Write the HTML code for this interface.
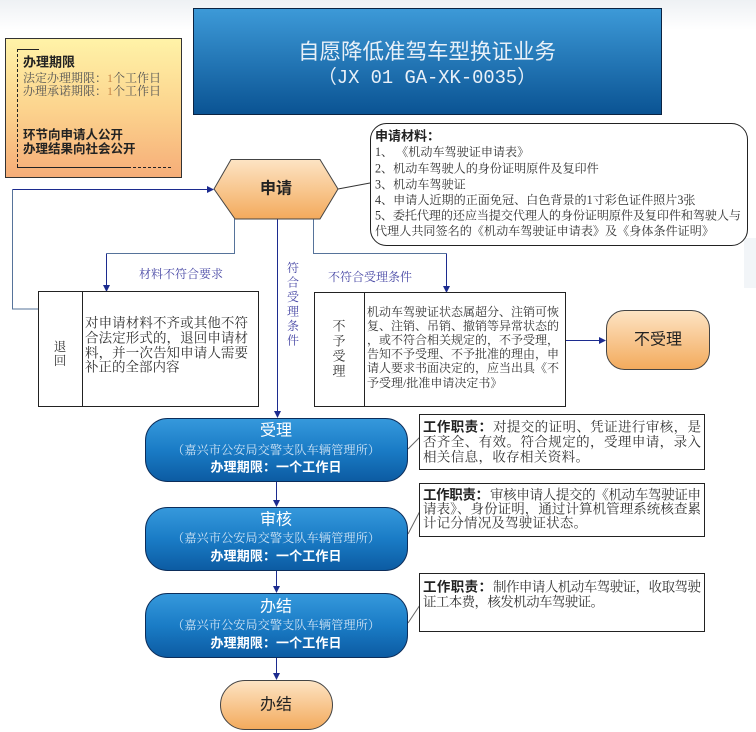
<!DOCTYPE html>
<html><head><meta charset="utf-8">
<style>
html,body{margin:0;padding:0;background:#fff;}
svg{display:block;}
.s{font-family:"Liberation Serif","Noto Serif CJK SC",serif;}
.h{font-family:"Liberation Sans","Noto Sans CJK SC",sans-serif;}
</style></head>
<body>
<svg width="756" height="732" viewBox="0 0 756 732" xmlns="http://www.w3.org/2000/svg">
<defs>
  <linearGradient id="og" x1="0" y1="0" x2="0" y2="1">
    <stop offset="0" stop-color="#fff3a8"/>
    <stop offset="0.5" stop-color="#fcd48e"/>
    <stop offset="1" stop-color="#f6ad78"/>
  </linearGradient>
  <linearGradient id="hg" x1="0" y1="0" x2="0" y2="1">
    <stop offset="0" stop-color="#fde4c4"/>
    <stop offset="1" stop-color="#f3aa5c"/>
  </linearGradient>
  <linearGradient id="bg" x1="0" y1="0" x2="0" y2="1">
    <stop offset="0" stop-color="#3699dc"/>
    <stop offset="0.5" stop-color="#1a7cc6"/>
    <stop offset="1" stop-color="#0c5ba2"/>
  </linearGradient>
  <linearGradient id="tg" x1="0" y1="0" x2="0" y2="1">
    <stop offset="0" stop-color="#3d9ad8"/>
    <stop offset="1" stop-color="#0a5393"/>
  </linearGradient>
  <linearGradient id="topband" x1="0" y1="0" x2="0" y2="1">
    <stop offset="0" stop-color="#eef1f4"/>
    <stop offset="1" stop-color="#ffffff"/>
  </linearGradient>
  <marker id="ar" markerWidth="7" markerHeight="7" refX="6" refY="3.5" orient="auto" markerUnits="userSpaceOnUse">
    <path d="M0,0 L7,3.5 L0,7 Z" fill="#1c2b8f"/>
  </marker>
</defs>

<rect x="0" y="0" width="756" height="30" fill="url(#topband)"/>
<rect x="744" y="238" width="12" height="50" fill="#f2f5f8"/>

<!-- Title box -->
<rect x="193.5" y="8.5" width="468" height="106" fill="url(#tg)" stroke="#0b2342" stroke-width="1"/>
<text x="427" y="52" class="h" font-size="21.5" fill="#e8f0f8" text-anchor="middle" dominant-baseline="central" textLength="258" lengthAdjust="spacing">自愿降低准驾车型换证业务</text>
<text x="427" y="78" font-family="'Liberation Mono','Noto Sans CJK SC',monospace" font-size="19" fill="#e8f0f8" text-anchor="middle" dominant-baseline="central" textLength="218" lengthAdjust="spacingAndGlyphs">（JX 01 GA-XK-0035）</text>

<!-- Orange info box -->
<rect x="5.5" y="38.5" width="176" height="139" fill="url(#og)" stroke="#333" stroke-width="1"/>
<path d="M39,49.5 L17,49.5" stroke="#222" stroke-width="1" fill="none"/>
<path d="M17.5,49 L17.5,167" stroke="#222" stroke-width="1" stroke-dasharray="3,2" fill="none"/>
<path d="M17,167.5 L128,167.5" stroke="#222" stroke-width="1" fill="none"/>
<path d="M128,167.5 L171,167.5" stroke="#222" stroke-width="1" stroke-dasharray="3,2" fill="none"/>
<text x="23" y="62" class="h" font-size="13" font-weight="bold" fill="#222" dominant-baseline="central">办理期限</text>
<text x="23" y="78" class="s" font-size="12" fill="#555" dominant-baseline="central">法定办理期限：<tspan fill="#c8884a">1</tspan>个工作日</text>
<text x="23" y="91" class="s" font-size="12" fill="#555" dominant-baseline="central">办理承诺期限：<tspan fill="#c8884a">1</tspan>个工作日</text>
<text x="23" y="135" class="h" font-size="12.5" font-weight="bold" fill="#222" dominant-baseline="central">环节向申请人公开</text>
<text x="23" y="149" class="h" font-size="12.5" font-weight="bold" fill="#222" dominant-baseline="central">办理结果向社会公开</text>

<!-- Connectors -->
<polyline points="38,309 12.5,309 12.5,189.5" fill="none" stroke="#56739a" stroke-width="1"/>
<line x1="12.5" y1="189.5" x2="213" y2="189.5" stroke="#1c2b8f" stroke-width="1" marker-end="url(#ar)"/>
<polyline points="234.5,219 234.5,253.5 106.5,253.5" fill="none" stroke="#56739a" stroke-width="1"/>
<line x1="106.5" y1="253.5" x2="106.5" y2="291" stroke="#1c2b8f" stroke-width="1" marker-end="url(#ar)"/>
<line x1="277.5" y1="219" x2="277.5" y2="417" stroke="#1c2b8f" stroke-width="1" marker-end="url(#ar)"/>
<polyline points="313.5,219 313.5,253.5 446.5,253.5" fill="none" stroke="#56739a" stroke-width="1"/>
<line x1="446.5" y1="253.5" x2="446.5" y2="292" stroke="#1c2b8f" stroke-width="1" marker-end="url(#ar)"/>
<line x1="566" y1="340.5" x2="605" y2="340.5" stroke="#1c2b8f" stroke-width="1" marker-end="url(#ar)"/>
<line x1="276.5" y1="482" x2="276.5" y2="506" stroke="#1c2b8f" stroke-width="1" marker-end="url(#ar)"/>
<line x1="276.5" y1="571" x2="276.5" y2="592" stroke="#1c2b8f" stroke-width="1" marker-end="url(#ar)"/>
<line x1="276.5" y1="658" x2="276.5" y2="679" stroke="#1c2b8f" stroke-width="1" marker-end="url(#ar)"/>
<line x1="338" y1="189" x2="370" y2="183" stroke="#333" stroke-width="1"/>
<line x1="408" y1="449" x2="420" y2="437" stroke="#666" stroke-width="1"/>
<line x1="408" y1="534" x2="420" y2="511" stroke="#666" stroke-width="1"/>
<line x1="408" y1="623" x2="420" y2="605" stroke="#666" stroke-width="1"/>

<!-- Connector labels -->
<text x="181" y="274" class="s" font-size="12" fill="#4a4aa6" text-anchor="middle" dominant-baseline="central">材料不符合要求</text>
<text x="370" y="277" class="s" font-size="12" fill="#4a4aa6" text-anchor="middle" dominant-baseline="central">不符合受理条件</text>
<g class="s" font-size="12" fill="#4a4aa6" text-anchor="middle" dominant-baseline="central">
  <text x="293" y="268">符</text>
  <text x="293" y="282.5">合</text>
  <text x="293" y="297">受</text>
  <text x="293" y="311.5">理</text>
  <text x="293" y="326">条</text>
  <text x="293" y="340.5">件</text>
</g>

<!-- Hexagon 申请 -->
<polygon points="214,189 231,159.5 320,159.5 338,189 320,219 235,219" fill="url(#hg)" stroke="#444" stroke-width="1"/>
<text x="276" y="189" class="h" font-size="16" font-weight="bold" fill="#222" text-anchor="middle" dominant-baseline="central">申请</text>

<!-- Materials box -->
<rect x="370.5" y="123.5" width="377" height="122" rx="16" ry="16" fill="#fff" stroke="#222" stroke-width="1"/>
<g class="s" font-size="12.1" fill="#333" dominant-baseline="central">
  <text x="375" y="136" class="h" font-size="13" font-weight="bold" fill="#222">申请材料：</text>
  <text x="375" y="152">1、 《机动车驾驶证申请表》</text>
  <text x="375" y="168.5">2、机动车驾驶人的身份证明原件及复印件</text>
  <text x="375" y="184.5">3、机动车驾驶证</text>
  <text x="375" y="200">4、申请人近期的正面免冠、白色背景的1寸彩色证件照片3张</text>
  <text x="375" y="215.5" textLength="366" lengthAdjust="spacing">5、委托代理的还应当提交代理人的身份证明原件及复印件和驾驶人与</text>
  <text x="375" y="231" textLength="339" lengthAdjust="spacing">代理人共同签名的《机动车驾驶证申请表》及《身体条件证明》</text>
</g>

<!-- 退回 box -->
<rect x="38.5" y="291.5" width="220" height="115" fill="#fff" stroke="#222" stroke-width="1"/>
<line x1="82.5" y1="291.5" x2="82.5" y2="406.5" stroke="#222" stroke-width="1"/>
<g class="s" font-size="12.5" fill="#333" text-anchor="middle" dominant-baseline="central">
  <text x="60" y="347">退</text>
  <text x="60" y="361">回</text>
</g>
<g class="s" font-size="13.5" fill="#333" dominant-baseline="central">
  <text x="85" y="323" textLength="163" lengthAdjust="spacing">对申请材料不齐或其他不符</text>
  <text x="85" y="338" textLength="163" lengthAdjust="spacing">合法定形式的，退回申请材</text>
  <text x="85" y="353" textLength="163" lengthAdjust="spacing">料，并一次告知申请人需要</text>
  <text x="85" y="367">补正的全部内容</text>
</g>

<!-- 不予受理 box -->
<rect x="314.5" y="292.5" width="251" height="114" fill="#fff" stroke="#222" stroke-width="1"/>
<line x1="364.5" y1="292.5" x2="364.5" y2="406.5" stroke="#222" stroke-width="1"/>
<g class="s" font-size="13" fill="#333" text-anchor="middle" dominant-baseline="central">
  <text x="339" y="326">不</text>
  <text x="339" y="341">予</text>
  <text x="339" y="356">受</text>
  <text x="339" y="371">理</text>
</g>
<g class="s" font-size="12" fill="#333" dominant-baseline="central">
  <text x="367" y="312" textLength="192" lengthAdjust="spacing">机动车驾驶证状态属超分、注销可恢</text>
  <text x="367" y="326" textLength="192" lengthAdjust="spacing">复、注销、吊销、撤销等异常状态的</text>
  <text x="367" y="340" textLength="192" lengthAdjust="spacing">，或不符合相关规定的，不予受理，</text>
  <text x="367" y="354" textLength="192" lengthAdjust="spacing">告知不予受理、不予批准的理由，申</text>
  <text x="367" y="368" textLength="192" lengthAdjust="spacing">请人要求书面决定的，应当出具《不</text>
  <text x="367" y="383">予受理/批准申请决定书》</text>
</g>

<!-- 不受理 -->
<rect x="606.5" y="310.5" width="103" height="59" rx="18" ry="18" fill="url(#hg)" stroke="#444" stroke-width="1"/>
<text x="658" y="340" class="h" font-size="16" fill="#222" text-anchor="middle" dominant-baseline="central">不受理</text>

<!-- Blue process boxes -->
<g>
  <rect x="145.5" y="418.5" width="262" height="63" rx="22" ry="22" fill="url(#bg)" stroke="#0c2d5a" stroke-width="1"/>
  <text x="276" y="431" class="h" font-size="16" fill="#fff" text-anchor="middle" dominant-baseline="central">受理</text>
  <text x="276" y="450" class="s" font-size="12.2" fill="#cfe3f4" text-anchor="middle" dominant-baseline="central" textLength="208" lengthAdjust="spacing">（嘉兴市公安局交警支队车辆管理所）</text>
  <text x="276" y="467" class="h" font-size="13" font-weight="bold" fill="#fff" text-anchor="middle" dominant-baseline="central" textLength="131" lengthAdjust="spacing">办理期限：一个工作日</text>

  <rect x="145.5" y="507.5" width="262" height="63" rx="22" ry="22" fill="url(#bg)" stroke="#0c2d5a" stroke-width="1"/>
  <text x="276" y="520" class="h" font-size="16" fill="#fff" text-anchor="middle" dominant-baseline="central">审核</text>
  <text x="276" y="538" class="s" font-size="12.2" fill="#cfe3f4" text-anchor="middle" dominant-baseline="central" textLength="208" lengthAdjust="spacing">（嘉兴市公安局交警支队车辆管理所）</text>
  <text x="276" y="556" class="h" font-size="13" font-weight="bold" fill="#fff" text-anchor="middle" dominant-baseline="central" textLength="131" lengthAdjust="spacing">办理期限：一个工作日</text>

  <rect x="145.5" y="593.5" width="262" height="64" rx="22" ry="22" fill="url(#bg)" stroke="#0c2d5a" stroke-width="1"/>
  <text x="276" y="607" class="h" font-size="16" fill="#fff" text-anchor="middle" dominant-baseline="central">办结</text>
  <text x="276" y="625" class="s" font-size="12.2" fill="#cfe3f4" text-anchor="middle" dominant-baseline="central" textLength="208" lengthAdjust="spacing">（嘉兴市公安局交警支队车辆管理所）</text>
  <text x="276" y="643" class="h" font-size="13" font-weight="bold" fill="#fff" text-anchor="middle" dominant-baseline="central" textLength="131" lengthAdjust="spacing">办理期限：一个工作日</text>
</g>

<!-- End node 办结 -->
<rect x="220.5" y="680.5" width="112" height="49" rx="24.5" ry="24.5" fill="url(#hg)" stroke="#444" stroke-width="1"/>
<text x="276" y="705" class="h" font-size="16" fill="#222" text-anchor="middle" dominant-baseline="central">办结</text>

<!-- Duty boxes -->
<rect x="419.5" y="414.5" width="285" height="55" fill="#fff" stroke="#222" stroke-width="1"/>
<rect x="419.5" y="483.5" width="285" height="53" fill="#fff" stroke="#222" stroke-width="1"/>
<rect x="419.5" y="573.5" width="285" height="58" fill="#fff" stroke="#222" stroke-width="1"/>
<g font-size="13.5" fill="#333" dominant-baseline="central">
  <text x="423" y="427" class="h" font-weight="bold" fill="#222" textLength="69" lengthAdjust="spacing">工作职责：</text>
  <text x="493" y="427" class="s" textLength="208" lengthAdjust="spacing">对提交的证明、凭证进行审核，是</text>
  <text x="423" y="442" class="s" textLength="278" lengthAdjust="spacing">否齐全、有效。符合规定的，受理申请，录入</text>
  <text x="423" y="457" class="s" textLength="166" lengthAdjust="spacing">相关信息，收存相关资料。</text>

  <text x="423" y="495" class="h" font-weight="bold" fill="#222" textLength="66" lengthAdjust="spacing">工作职责：</text>
  <text x="490" y="495" class="s" textLength="211" lengthAdjust="spacing">审核申请人提交的《机动车驾驶证申</text>
  <text x="423" y="509" class="s" textLength="278" lengthAdjust="spacing">请表》、身份证明，通过计算机管理系统核查累</text>
  <text x="423" y="523" class="s" textLength="164" lengthAdjust="spacing">计记分情况及驾驶证状态。</text>

  <text x="423" y="587" class="h" font-weight="bold" fill="#222" textLength="69" lengthAdjust="spacing">工作职责：</text>
  <text x="493" y="587" class="s" textLength="208" lengthAdjust="spacing">制作申请人机动车驾驶证，收取驾驶</text>
  <text x="423" y="602" class="s" textLength="181" lengthAdjust="spacing">证工本费，核发机动车驾驶证。</text>
</g>
</svg>
</body></html>
